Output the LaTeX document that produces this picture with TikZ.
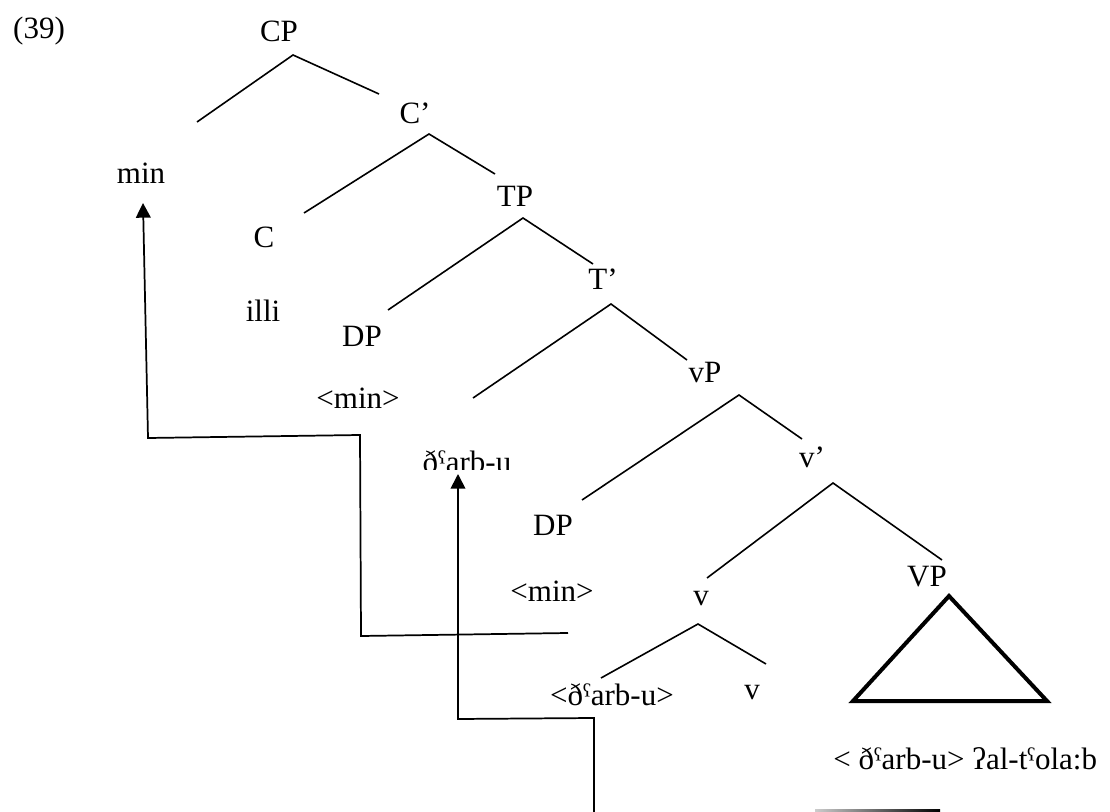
\documentclass[tikz,border=0pt]{standalone}
\usepackage{fontspec}
\setmainfont{Liberation Serif}
\usepackage{tikz}
\usetikzlibrary{arrows.meta}

\tikzset{
  lbl/.style={anchor=base, inner sep=0pt, font=\fontsize{23.25}{28}\selectfont},
  branch/.style={line width=1.2pt},
  move/.style={line width=1.3pt, -{Triangle[length=11pt,width=11pt]}},
  roof/.style={line width=3pt}
}

\begin{document}
\begin{tikzpicture}[x=0.75pt, y=-0.75pt]
  \useasboundingbox (0,0) rectangle (1110,812);

  % labels
  \node[lbl] (ex) at (39,39) {(39)};
  \node[lbl] (cp) at (279,42) {CP};
  \node[lbl] (min) at (141,184) {min};
  \node[lbl] (cbar) at (415,124) {C’};
  \node[lbl] (c) at (264,248) {C};
  \node[lbl] (tp) at (515,207) {TP};
  \node[lbl] (illi) at (263,322) {illi};
  \node[lbl] (tbar) at (603,290) {T’};
  \node[lbl] (dpa) at (362,347) {DP};
  \node[lbl] (vp) at (705,383) {vP};
  \node[lbl] (mina) at (358,409) {<min>};
  \begin{scope}
    \clip (400,440) rectangle (540,470);
    \node[lbl] (darb) at (467,473) {ðˤarb-u};
  \end{scope}
  \node[lbl] (vbar) at (812,468) {v’};
  \node[lbl] (dpb) at (553,536) {DP};
  \node[lbl] (minb) at (552,601) {<min>};
  \node[lbl] (va) at (701,605) {v};
  \node[lbl] (bigvp) at (927,586) {VP};
  \node[lbl] (darbt) at (612,705) {<ðˤarb-u>};
  \node[lbl] (vb) at (752,699) {v};
  \node[lbl, anchor=base west] (obj) at (833,769) {< ðˤarb-u> ʔal-tˤola:b};

  % branch points
  \coordinate (cp-a) at (293,55);  \coordinate (cp-l) at (197,122);  \coordinate (cp-r) at (379,94);
  \coordinate (cb-a) at (429,134); \coordinate (cb-l) at (304,213);  \coordinate (cb-r) at (495,174);
  \coordinate (tp-a) at (523,218); \coordinate (tp-l) at (388,310);  \coordinate (tp-r) at (593,264);
  \coordinate (tb-a) at (611,304); \coordinate (tb-l) at (473,398);  \coordinate (tb-r) at (687,360);
  \coordinate (vp-a) at (739,395); \coordinate (vp-l) at (582,500);  \coordinate (vp-r) at (802,439);
  \coordinate (vb-a) at (833,483); \coordinate (vb-l) at (707,578);  \coordinate (vb-r) at (942,560);
  \coordinate (v-a) at (698,624);  \coordinate (v-l) at (601,678);   \coordinate (v-r) at (766,664);

  \draw[branch] (cp-l) -- (cp-a) -- (cp-r);
  \draw[branch] (cb-l) -- (cb-a) -- (cb-r);
  \draw[branch] (tp-l) -- (tp-a) -- (tp-r);
  \draw[branch] (tb-l) -- (tb-a) -- (tb-r);
  \draw[branch] (vp-l) -- (vp-a) -- (vp-r);
  \draw[branch] (vb-l) -- (vb-a) -- (vb-r);
  \draw[branch] (v-l) -- (v-a) -- (v-r);

  % VP roof
  \coordinate (rf-a) at (949,596); \coordinate (rf-l) at (853,701); \coordinate (rf-r) at (1047,701);
  \draw[roof] (rf-a) -- (rf-l) -- (rf-r) -- cycle;

  % movement of min
  \coordinate (m1) at (568,633); \coordinate (m2) at (361,636);
  \coordinate (m3) at (360,435); \coordinate (m4) at (148,438);
  \coordinate (m5) at (143,203);
  \draw[move] (m1) -- (m2) -- (m3) -- (m4) -- (m5);

  % movement of the verb
  \coordinate (d1) at (594,812); \coordinate (d2) at (594,718);
  \coordinate (d3) at (458,719); \coordinate (d4) at (458,474);
  \draw[move] (d1) -- (d2) -- (d3) -- (d4);

  % cut off bar at the foot
  \shade[left color=gray!40, right color=black] (815,809) rectangle (940,812);
\end{tikzpicture}
\end{document}
